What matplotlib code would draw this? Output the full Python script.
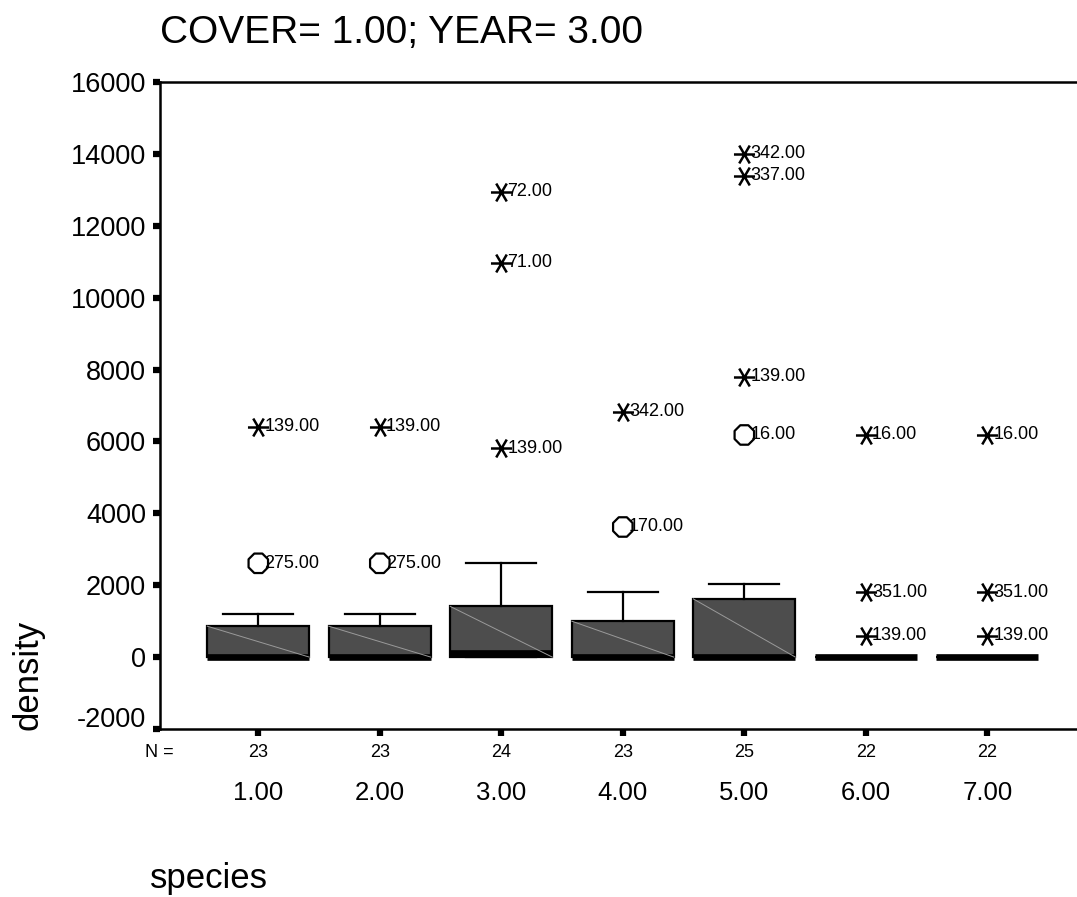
import matplotlib

matplotlib.use("Agg")
import matplotlib.pyplot as plt  # noqa: E402
from matplotlib.path import Path  # noqa: E402
from matplotlib import transforms  # noqa: E402

plt.rcParams["font.family"] = ["Liberation Sans", "DejaVu Sans"]

# data
species = [1, 2, 3, 4, 5, 6, 7]
species_labels = ["1.00", "2.00", "3.00", "4.00", "5.00", "6.00", "7.00"]
n_counts = [23, 23, 24, 23, 25, 22, 22]
q1 = [0, 0, 0, 0, 0, 0, 0]
medians = [0, 0, 120, 0, 0, 0, 0]
q3 = [860, 860, 1410, 1000, 1620, 0, 0]
whisker_low = [0, 0, 0, 0, 0, 0, 0]
whisker_high = [1200, 1200, 2630, 1810, 2030, 0, 0]

# outliers (circle) and extremes (asterisk): species, value, case label
outlier_species = [1, 2, 4, 5]
outlier_values = [2610, 2610, 3620, 6180]
outlier_labels = ["275.00", "275.00", "170.00", "16.00"]

extreme_species = [1, 2, 3, 3, 3, 4, 5, 5, 5, 6, 6, 6, 7, 7, 7]
extreme_values = [6410, 6410, 12950, 10970, 5810, 6830, 14000, 13390, 7800,
                  6180, 1800, 590, 6180, 1800, 590]
extreme_labels = ["139.00", "139.00", "72.00", "71.00", "139.00", "342.00",
                  "342.00", "337.00", "139.00", "16.00", "351.00", "139.00",
                  "16.00", "351.00", "139.00"]

BOX_W = 0.84
CAP_W = 0.575
FILL = "#4d4d4d"

# SPSS-style asterisk: horizontal bar plus an X
ASTERISK = Path(
    [(-1, 0), (1, 0), (-0.5, -0.85), (0.5, 0.85), (-0.5, 0.85), (0.5, -0.85)],
    [Path.MOVETO, Path.LINETO, Path.MOVETO, Path.LINETO, Path.MOVETO, Path.LINETO],
)

fig = plt.figure(figsize=(10.77, 8.97), dpi=100)
ax = fig.add_axes([160 / 1077, 1 - 729 / 897, 917 / 1077, 647 / 897])

stats = [dict(q1=a, med=m, q3=b, whislo=lo, whishi=hi, fliers=[])
         for a, m, b, lo, hi in zip(q1, medians, q3, whisker_low, whisker_high)]
ax.bxp(stats, positions=species, widths=BOX_W, capwidths=CAP_W,
       patch_artist=True, showfliers=False,
       boxprops=dict(facecolor=FILL, edgecolor="black", linewidth=1.6),
       medianprops=dict(color="black", linewidth=4.8, solid_capstyle="butt"),
       whiskerprops=dict(color="black", linewidth=1.6),
       capprops=dict(color="black", linewidth=1.6))

# thin diagonal inside each box
for x, lo, hi in zip(species, q1, q3):
    if hi > lo:
        ax.plot([x - BOX_W / 2, x + BOX_W / 2], [hi, lo], color="#9a9a9a",
                linewidth=0.7, zorder=3)

ax.scatter(outlier_species, outlier_values, marker="8", s=230,
           facecolors="none", edgecolors="black", linewidths=1.6, zorder=4)
ax.scatter(extreme_species, extreme_values, marker=ASTERISK, s=230,
           color="black", linewidths=1.8, zorder=4)
for xs, ys, labs in ((outlier_species, outlier_values, outlier_labels),
                     (extreme_species, extreme_values, extreme_labels)):
    for x, y, lab in zip(xs, ys, labs):
        ax.annotate(lab, (x, y), xytext=(4.5, 0), textcoords="offset points",
                    ha="left", va="center", fontsize=13)

ax.set_xlim(0.191, 7.738)
ax.set_ylim(-2000, 16000)
ax.set_yticks(range(-2000, 16001, 2000))
ax.set_xticks(species)
ax.set_xticklabels([])
ax.yaxis.set_major_formatter(matplotlib.ticker.FuncFormatter(lambda v, p: f"{int(v)}"))
ax.tick_params(axis="both", direction="out", length=5, width=4.5, color="black")
ax.tick_params(axis="y", labelsize=19.5, pad=5)
fig.canvas.draw()
for lab in ax.get_yticklabels():
    if lab.get_text().startswith("-"):
        lab.set_transform(lab.get_transform()
                          + transforms.ScaledTranslation(0, 12 / 100, fig.dpi_scale_trans))
ax.spines["right"].set_visible(False)
for side in ("left", "bottom", "top"):
    ax.spines[side].set_linewidth(1.8)

# N row and category labels under the axis
blend = transforms.blended_transform_factory(ax.transData, ax.transAxes)
ax.text(-0.001, -0.037, "N =", transform=ax.transAxes, ha="center",
        va="center", fontsize=13)
for x, n, lab in zip(species, n_counts, species_labels):
    ax.text(x, -0.037, str(n), transform=blend, ha="center", va="center", fontsize=13)
    ax.text(x, -0.099, lab, transform=blend, ha="center", va="center", fontsize=18.5)

fig.text(160 / 1077, 1 - 43 / 897, "COVER= 1.00; YEAR= 3.00", fontsize=28,
         ha="left", va="baseline")
fig.text(28 / 1077, 1 - 730 / 897, "density", rotation=90, fontsize=25,
         ha="center", va="bottom")
fig.text(150 / 1077, 1 - 888 / 897, "species", fontsize=25, ha="left",
         va="baseline")

fig.savefig("out.png", dpi=100)
